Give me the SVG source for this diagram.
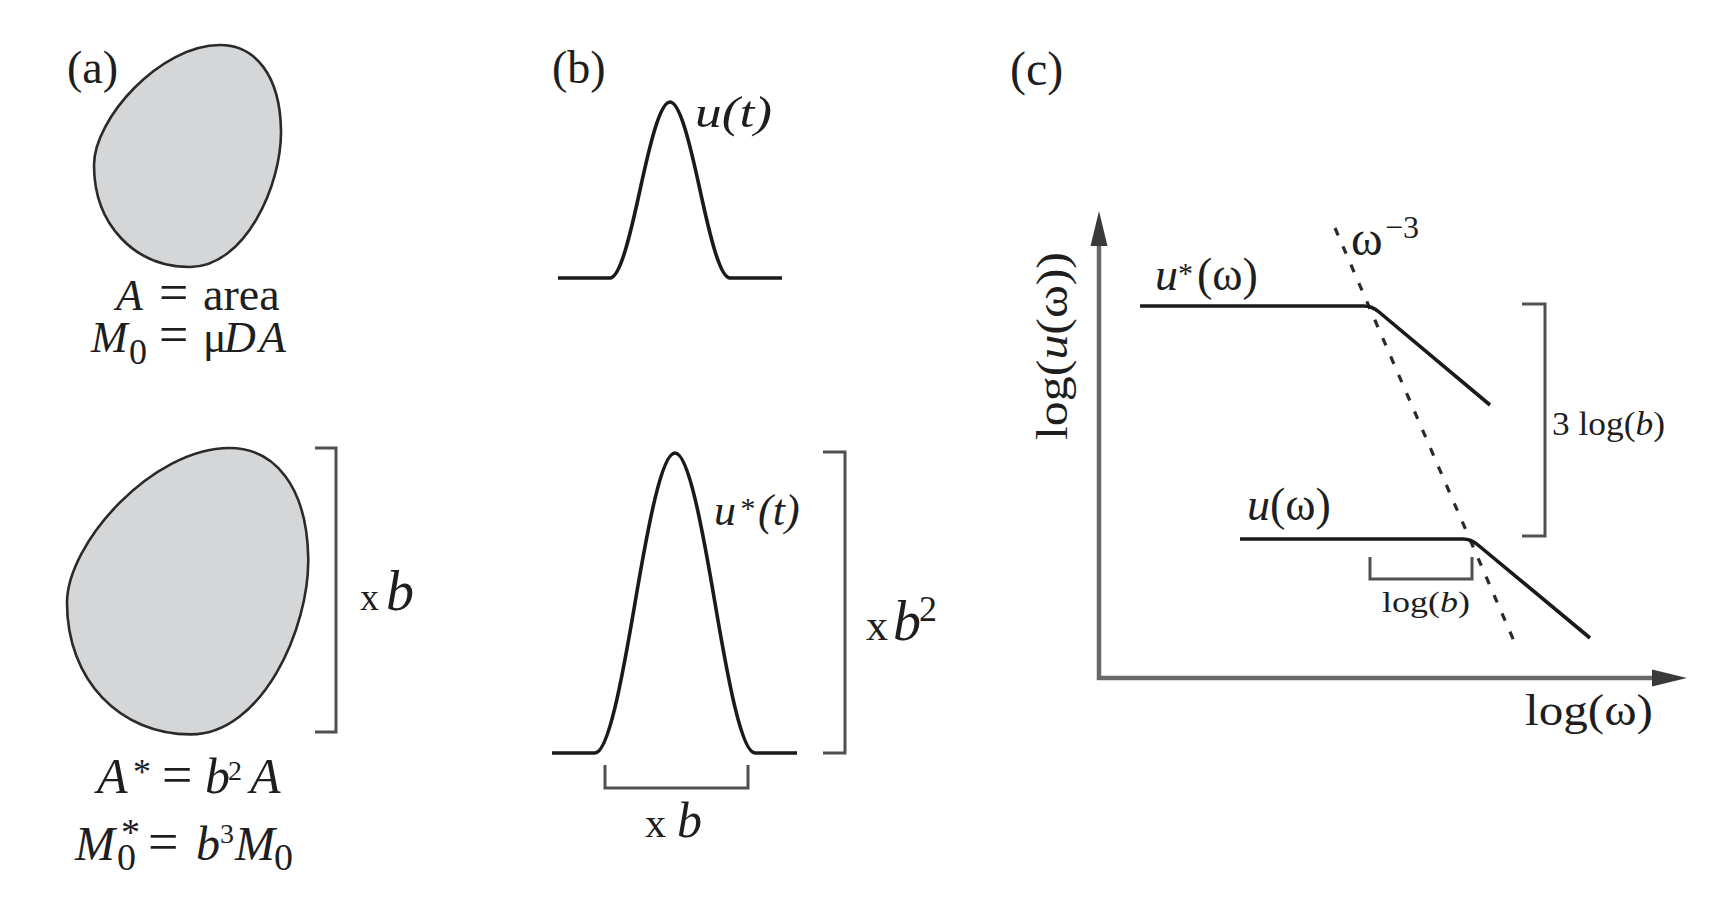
<svg xmlns="http://www.w3.org/2000/svg" width="1730" height="910" viewBox="0 0 1730 910">
<style>
text{font-family:"Liberation Serif","DejaVu Serif",serif;fill:#1e1e1e}
.i{font-style:italic}
.blob{fill:#d5d6d8;stroke:#2a2a2a;stroke-width:2.6}
.curve{fill:none;stroke:#1a1a1a;stroke-width:3.6;stroke-linejoin:round}
.brk{fill:none;stroke:#505050;stroke-width:3}
.axis{fill:none;stroke:#686868;stroke-width:4.5}
.dash{fill:none;stroke:#2a2a2a;stroke-width:3.2;stroke-dasharray:8 12}
</style>
<defs>
<path id="egg" vector-effect="non-scaling-stroke" d="M126,0 C161,0 186,30 187,85 C188,140 151,222 96,222 C41,222 0,180 0,120 C0,74 66,0 126,0 Z"/>
</defs>
<rect width="1730" height="910" fill="#ffffff"/>

<g id="panel-a">
  <text x="67" y="83" font-size="46">(a)</text>
  <g id="blob-small">
    <use href="#egg" class="blob" transform="translate(94,45)"/>
  </g>
  <g id="label-a1">
    <text font-size="44"><tspan x="116" y="310" class="i">A</tspan><tspan x="159" font-size="52">=</tspan><tspan x="203" font-size="46">area</tspan><tspan x="91" y="352" class="i">M</tspan><tspan x="129" y="364" font-size="36">0</tspan><tspan x="159" y="352" font-size="52">=</tspan><tspan x="203">μ</tspan><tspan x="224" class="i">D</tspan><tspan x="259" class="i">A</tspan></text>
  </g>
  <g id="blob-large">
    <use href="#egg" class="blob" transform="translate(67,448) scale(1.29)"/>
  </g>
  <g id="label-a2">
    <text font-size="50"><tspan x="97" y="793" class="i">A</tspan><tspan x="133" y="784" font-size="36">*</tspan><tspan x="162" y="793" font-size="54">=</tspan><tspan x="205" class="i">b</tspan><tspan x="228" y="780" font-size="28">2</tspan><tspan x="250" y="793" class="i">A</tspan><tspan x="75" y="860" font-size="48" class="i">M</tspan><tspan x="117" y="870" font-size="38">0</tspan><tspan x="121" y="845" font-size="38">*</tspan><tspan x="148" y="860" font-size="54">=</tspan><tspan x="196" font-size="48" class="i">b</tspan><tspan x="220" y="843" font-size="28">3</tspan><tspan x="235" y="860" font-size="48" class="i">M</tspan><tspan x="274" y="870" font-size="38">0</tspan></text>
  </g>
  <g id="scale-a">
    <path class="brk" d="M315,448 H336 V732 H315"/>
    <text y="610"><tspan x="360" font-size="38">x</tspan><tspan x="386" font-size="56" class="i">b</tspan></text>
  </g>
</g>

<g id="panel-b">
  <text x="552" y="83" font-size="46">(b)</text>
  <g id="pulse-small">
    <path class="curve" d="M558,278 H610 C620,278 630,236.1 640,190 C650,143.9 660,102 670,102 C680,102 690,143.9 700,190 C710,236.1 720,278 730,278 H782"/>
    <text x="695" y="127" font-size="44" class="i" textLength="77" lengthAdjust="spacingAndGlyphs">u(t)</text>
  </g>
  <g id="pulse-large">
    <path class="curve" d="M552,753 H595 C608.3,753 621.7,681.5 635,603 C648.3,524.5 661.7,453 675,453 C688.3,453 701.7,524.5 715,603 C728.3,681.5 741.7,753 755,753 H797"/>
    <text font-size="44" class="i"><tspan x="714" y="525">u</tspan><tspan x="739" y="518" font-size="30">*</tspan><tspan x="758" y="525">(t)</tspan></text>
  </g>
  <g id="scale-b">
    <path class="brk" d="M823,452 H845 V753 H823"/>
    <text y="640"><tspan x="866" font-size="44">x</tspan><tspan x="893" font-size="56" class="i">b</tspan><tspan x="919" y="621" font-size="36">2</tspan></text>
    <path class="brk" d="M605,765 V788 H748 V765"/>
    <text y="837"><tspan x="645" font-size="42">x</tspan><tspan x="677" font-size="50" class="i">b</tspan></text>
  </g>
</g>

<g id="panel-c">
  <text x="1010" y="85" font-size="48">(c)</text>
  <g id="axes">
    <path class="axis" d="M1099,244 V678 H1654"/>
    <polygon points="1099,211 1090.5,246 1107.5,246" fill="#3a3a3a"/>
    <polygon points="1687,678 1652,669.5 1652,686.5" fill="#3a3a3a"/>
    <text transform="translate(1067,346) rotate(-90)" text-anchor="middle" font-size="44" textLength="188" lengthAdjust="spacingAndGlyphs">log(<tspan class="i">u</tspan>(ω))</text>
    <text x="1525" y="725" font-size="44" textLength="128" lengthAdjust="spacingAndGlyphs">log(ω)</text>
  </g>
  <g id="connectors">
    <path class="dash" d="M1335,228 L1517,648"/>
    <path class="curve" d="M1140,306 H1364 Q1372,306 1379,312 L1490,405"/>
    <path class="curve" d="M1240,539 H1463 Q1471,539 1478,545 L1590,638"/>
  </g>
  <g id="label-ustar">
    <text font-size="46"><tspan x="1155" y="290" class="i">u</tspan><tspan x="1178" y="283" font-size="30">*</tspan><tspan x="1197" y="290">(ω)</tspan></text>
  </g>
  <g id="label-slope">
    <text font-size="48"><tspan x="1351" y="255">ω</tspan><tspan x="1385" y="238" font-size="32">−3</tspan></text>
  </g>
  <g id="label-u">
    <text font-size="46"><tspan x="1247" y="520" class="i">u</tspan><tspan x="1270">(ω)</tspan></text>
  </g>
  <g id="shift-vertical">
    <path class="brk" d="M1522,304 H1545 V536 H1522"/>
    <text x="1552" y="435" font-size="34" textLength="113" lengthAdjust="spacingAndGlyphs">3 log(<tspan class="i">b</tspan>)</text>
  </g>
  <g id="shift-horizontal">
    <path class="brk" d="M1370,557 V579 H1472 V557"/>
    <text x="1382" y="612" font-size="30" textLength="88" lengthAdjust="spacingAndGlyphs">log(<tspan class="i">b</tspan>)</text>
  </g>
</g>
</svg>
